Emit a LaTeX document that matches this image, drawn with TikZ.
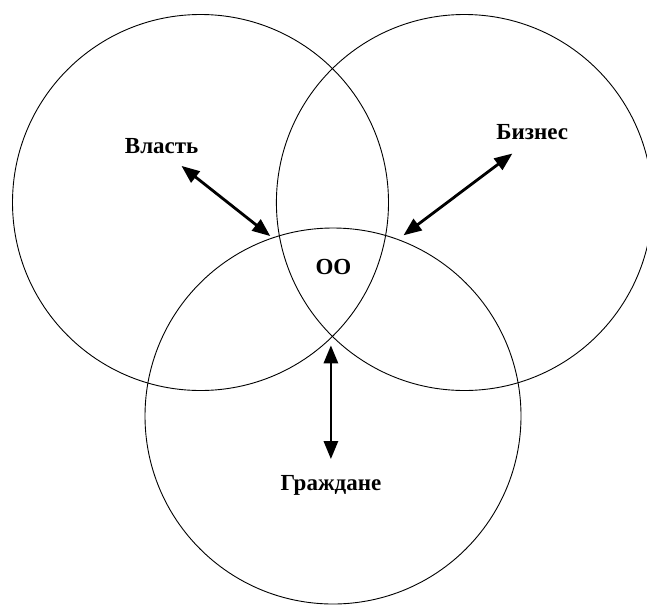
\documentclass[tikz,border=0pt]{standalone}
\usepackage{fontspec}
\setmainfont{Liberation Serif}
\usetikzlibrary{arrows.meta}
\begin{document}
\begin{tikzpicture}[x=1pt,y=-1pt,
  ring/.style={draw=black,line width=0.9pt,circle,inner sep=0pt,minimum size=376pt},
  lbl/.style={font=\fontsize{23}{26}\selectfont\bfseries,inner sep=0pt},
  link/.style={line width=2.8pt,{Triangle[length=18pt,width=14pt]}-{Triangle[length=18pt,width=14pt]}}]
\useasboundingbox (0,0) rectangle (647,605);
\begin{scope}
\clip (0,0) rectangle (647,605);
\node[ring] (vl) at (200.5,202.5) {};
\node[ring] (bz) at (464.4,202.5) {};
\node[ring] (gr) at (333,416) {};
\end{scope}
\node[lbl] (tvl) at (161.7,145.8) {Власть};
\node[lbl] (tbz) at (532.2,131.9) {Бизнес};
\node[lbl] (too) at (333.4,267.4) {ОО};
\node[lbl] (tgr) at (330.9,485.3) {Граждане};
\coordinate (a1) at (181.5,165.9);
\coordinate (a2) at (270.3,236.1);
\coordinate (b1) at (512.4,153.5);
\coordinate (b2) at (403.5,235.3);
\coordinate (c1) at (330.9,345.3);
\coordinate (c2) at (330.9,459.1);
\draw[link] (a1) -- (a2);
\draw[link] (b1) -- (b2);
\draw[link] (c1) -- (c2);
\end{tikzpicture}
\end{document}
